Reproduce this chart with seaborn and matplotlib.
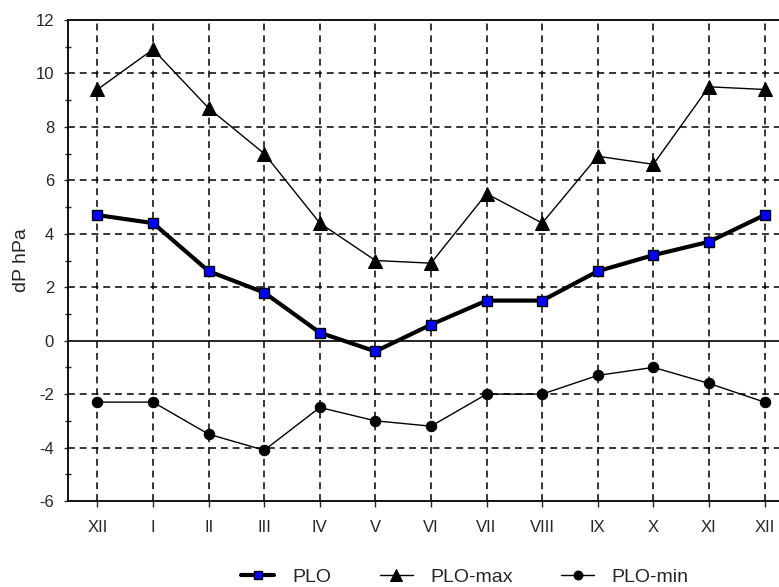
import matplotlib
matplotlib.use("Agg")
import matplotlib.pyplot as plt
from matplotlib.ticker import MultipleLocator
import numpy as np
import pandas as pd
import seaborn as sns

# months (December repeated at both ends)
months = ["XII", "I", "II", "III", "IV", "V", "VI", "VII", "VIII", "IX", "X", "XI", "XII"]
plo = [4.7, 4.4, 2.6, 1.8, 0.3, -0.4, 0.6, 1.5, 1.5, 2.6, 3.2, 3.7, 4.7]
plo_max = [9.4, 10.9, 8.7, 7.0, 4.4, 3.0, 2.9, 5.5, 4.4, 6.9, 6.6, 9.5, 9.4]
plo_min = [-2.3, -2.3, -3.5, -4.1, -2.5, -3.0, -3.2, -2.0, -2.0, -1.3, -1.0, -1.6, -2.3]

df = pd.DataFrame({"pos": np.arange(len(months)), "PLO": plo,
                   "PLO-max": plo_max, "PLO-min": plo_min})

sns.set_style("white")
plt.rcParams["font.family"] = ["Liberation Sans", "DejaVu Sans"]
plt.rcParams["axes.unicode_minus"] = False

fig = plt.figure(figsize=(7.79, 5.87), dpi=100)
ax = fig.add_axes([68 / 779, 1 - 501 / 587, 1 - 68 / 779 + 0.01, (501 - 20) / 587])

dash = (0, (4.5, 3.2))
# grid
for y in [-4, -2, 2, 4, 6, 8, 10]:
    ax.axhline(y, color="black", lw=1.1, ls=dash, zorder=1)
for x in df["pos"]:
    ax.axvline(x, color="black", lw=1.1, ls=dash, zorder=1)
ax.axhline(0, color="black", lw=1.2, zorder=1)

sns.lineplot(data=df, x="pos", y="PLO-max", ax=ax, color="black", lw=1,
             marker="^", markersize=9.5, markerfacecolor="black",
             markeredgecolor="black", label="PLO-max", zorder=3)
sns.lineplot(data=df, x="pos", y="PLO-min", ax=ax, color="black", lw=1,
             marker="o", markersize=7.5, markerfacecolor="black",
             markeredgecolor="black", label="PLO-min", zorder=3)
sns.lineplot(data=df, x="pos", y="PLO", ax=ax, color="black", lw=3,
             marker="s", markersize=7.5, markerfacecolor="#0000ff",
             markeredgecolor="black", markeredgewidth=1, label="PLO", zorder=4)

ax.set_xlim(-0.53, 12.4)
ax.set_ylim(-6, 12)
ax.set_xticks(df["pos"])
ax.set_xticklabels(months)
ax.yaxis.set_major_locator(MultipleLocator(2))
ax.yaxis.set_minor_locator(MultipleLocator(1))
ax.tick_params(axis="x", which="major", direction="out", length=4.5, width=1,
               pad=9, labelsize=12, bottom=True)
ax.tick_params(axis="y", which="major", direction="out", length=3, width=1,
               pad=7, labelsize=12, left=True)
ax.tick_params(axis="y", which="minor", direction="inout", length=5, width=1,
               left=True)
ax.set_xlabel("")
ax.set_ylabel("dP hPa", fontsize=14, labelpad=4)

for s in ["left", "top", "bottom"]:
    ax.spines[s].set_color("black")
    ax.spines[s].set_linewidth(1.3)
ax.spines["right"].set_visible(False)

handles, labels = ax.get_legend_handles_labels()
order = [labels.index(n) for n in ["PLO", "PLO-max", "PLO-min"]]
ax.get_legend().remove()
fig.legend([handles[i] for i in order], [labels[i] for i in order],
           loc="center", bbox_to_anchor=(0.597, 0.017), ncol=3, frameon=False,
           fontsize=14, handlelength=1.7, handletextpad=0.9, columnspacing=2.5,
           markerscale=0.85)

fig.savefig("out.png", dpi=100)
